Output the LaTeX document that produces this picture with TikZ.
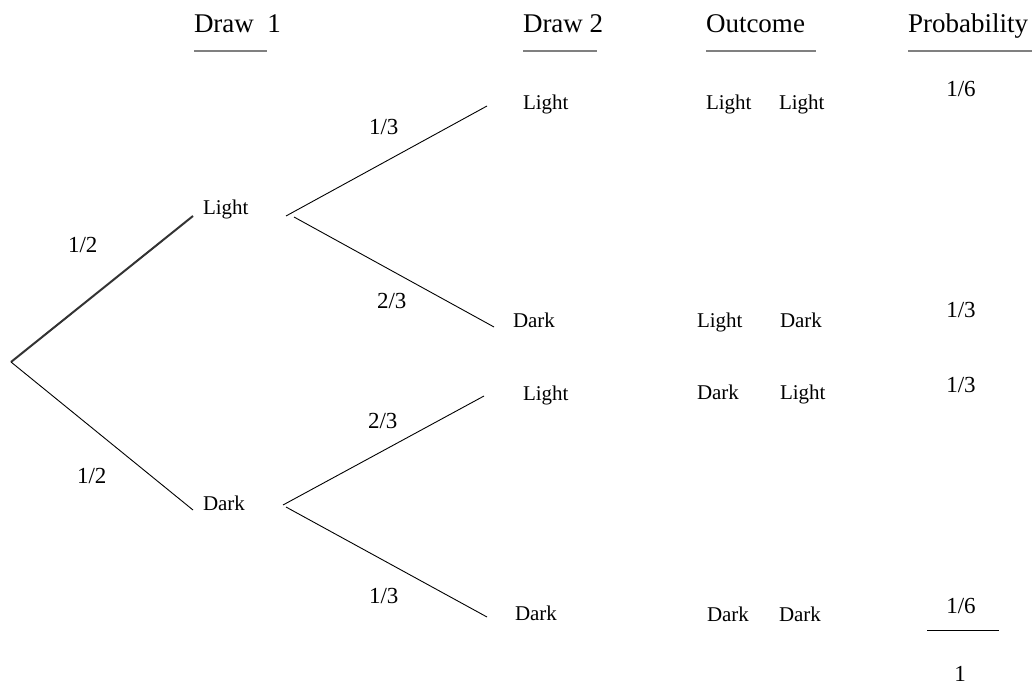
\documentclass[tikz,border=0pt]{standalone}
\usepackage{fontspec}
\setmainfont{Liberation Serif}
\newfontfamily\treefont{Liberation Serif}
\begin{document}
\begin{tikzpicture}[x=1pt,y=-1pt,
  every node/.style={inner sep=0pt,outer sep=0pt},
  head/.style={anchor=base west,font=\treefont\fontsize{27}{31}\selectfont},
  lbl/.style={anchor=base west,font=\treefont\fontsize{21}{25}\selectfont},
  frac/.style={anchor=base west,font=\treefont\fontsize{23}{27}\selectfont},
  prob/.style={anchor=base,font=\treefont\fontsize{23}{27}\selectfont},
  rule/.style={draw=black!50,line width=2pt},
  branch/.style={draw=black,line width=0.9pt},
  heavy/.style={draw=black!80,line width=2pt}]
\useasboundingbox (0,0) rectangle (1032,684);

% column headings with their underlines
\node[head] (h1) at (194,33) {Draw\ \ 1};
\node[head] (h2) at (523,33) {Draw 2};
\node[head] (h3) at (706,33) {Outcome};
\node[head] (h4) at (908,33) {Probability};
\draw[rule] (194,51) -- (267,51);
\draw[rule] (523,51) -- (597,51);
\draw[rule] (706,51) -- (816,51);
\draw[rule] (908,51) -- (1032,51);

% first draw
\coordinate (root) at (11,362);
\coordinate (l1in) at (193,216);
\coordinate (d1in) at (193,510);
\node[lbl] (l1) at (203,215) {Light};
\node[lbl] (d1) at (203,510) {Dark};
\draw[heavy] (root) -- (l1in);
\draw[branch] (root) -- (d1in);
\node[frac] (p1) at (68,253) {1/2};
\node[frac] (p2) at (77,483) {1/2};

% second draw
\coordinate (l1a) at (286,216);
\coordinate (l1b) at (294,217);
\coordinate (d1a) at (283,505);
\coordinate (d1b) at (286,507);
\coordinate (llin) at (487,106);
\coordinate (ldin) at (494,327);
\coordinate (dlin) at (484,396);
\coordinate (ddin) at (487,617);
\draw[branch] (l1a) -- (llin);
\draw[branch] (l1b) -- (ldin);
\draw[branch] (d1a) -- (dlin);
\draw[branch] (d1b) -- (ddin);
\node[frac] (q1) at (369,135) {1/3};
\node[frac] (q2) at (377,308) {2/3};
\node[frac] (q3) at (368,428) {2/3};
\node[frac] (q4) at (369,603) {1/3};

\node[lbl] (ll) at (523,110) {Light};
\node[lbl] (ld) at (513,327) {Dark};
\node[lbl] (dl) at (523,400) {Light};
\node[lbl] (dd) at (515,620) {Dark};

% outcomes
\node[lbl] (o1a) at (706,110) {Light};
\node[lbl] (o1b) at (779,110) {Light};
\node[lbl] (o2a) at (697,327) {Light};
\node[lbl] (o2b) at (780,327) {Dark};
\node[lbl] (o3a) at (697,399) {Dark};
\node[lbl] (o3b) at (780,399) {Light};
\node[lbl] (o4a) at (707,621) {Dark};
\node[lbl] (o4b) at (779,621) {Dark};

% probabilities and their total
\node[prob] (r1) at (961,97) {1/6};
\node[prob] (r2) at (961,317) {1/3};
\node[prob] (r3) at (961,392) {1/3};
\node[prob] (r4) at (961,613) {1/6};
\draw[branch] (927,630) -- (999,630);
\node[prob] (tot) at (960,681) {1};
\end{tikzpicture}
\end{document}
